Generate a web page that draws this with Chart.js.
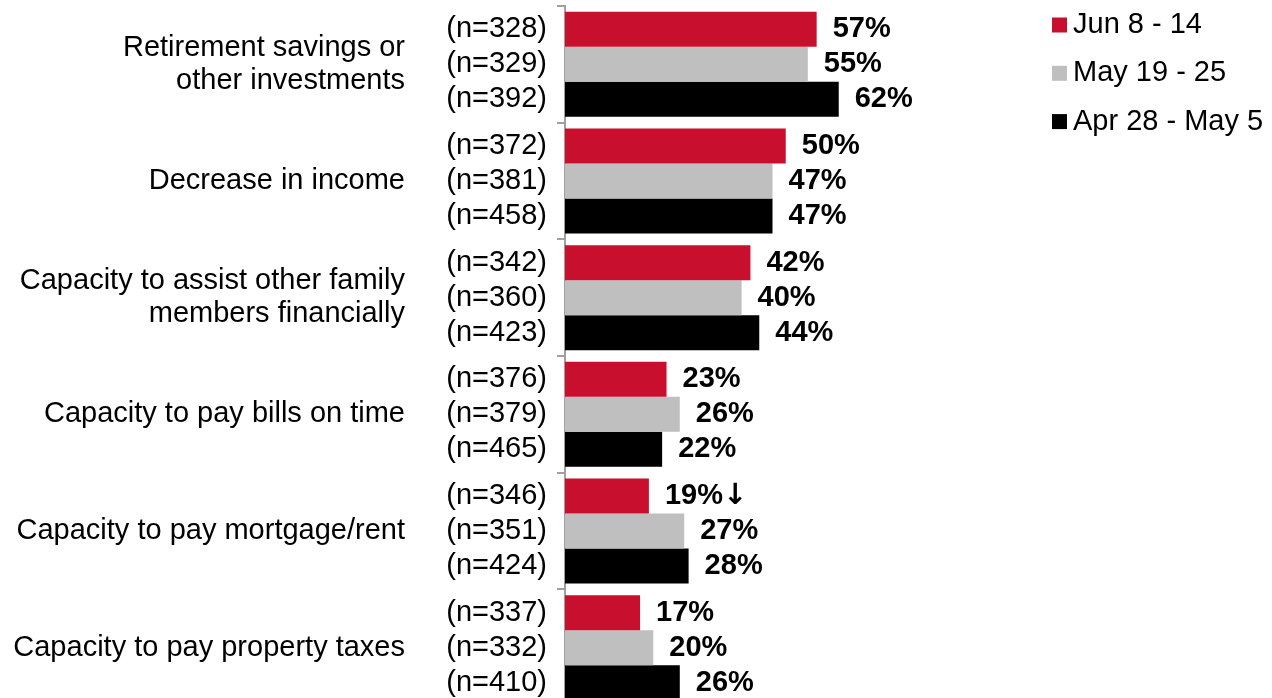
<!DOCTYPE html>
<html lang="en">
<head>
<meta charset="UTF-8">
<title>Financial concerns by survey wave</title>
<script src="https://cdn.jsdelivr.net/npm/chart.js"></script>
<style>
    html, body { margin: 0; padding: 0; background: #fff; overflow: hidden; }
    .chart-container { position: relative; width: 1272px; height: 706px; }
</style>
</head>
<body>
<div class="chart-container">
    <canvas id="myChart"></canvas>
</div>
<script>
    // categories (top to bottom)
    const categories = [
        ["Retirement savings or", "other investments"],
        "Decrease in income",
        ["Capacity to assist other family", "members financially"],
        "Capacity to pay bills on time",
        "Capacity to pay mortgage/rent",
        "Capacity to pay property taxes"
    ];
    const seriesNames = ["Jun 8 - 14", "May 19 - 25", "Apr 28 - May 5"];

    // percentages
    const junValues = [57, 50, 42, 23, 19, 17];
    const mayValues = [55, 47, 40, 26, 27, 20];
    const aprValues = [62, 47, 44, 22, 28, 26];

    // sample sizes
    const junN = [328, 372, 342, 376, 346, 337];
    const mayN = [329, 381, 360, 379, 351, 332];
    const aprN = [392, 458, 423, 465, 424, 410];

    // significance markers
    const junMarks = ["", "", "", "", "\u2193", ""];

    const FONT = '"Liberation Sans", Arial, sans-serif';
    const SIZE = 29;

    // n= labels left of the axis and % labels at bar ends
    const barLabels = {
        id: 'barLabels',
        afterDatasetsDraw(chart) {
            const ctx = chart.ctx;
            const left = chart.chartArea.left;
            ctx.save();
            ctx.textBaseline = 'middle';
            ctx.fillStyle = '#000';
            chart.data.datasets.forEach((ds, i) => {
                const meta = chart.getDatasetMeta(i);
                meta.data.forEach((bar, j) => {
                    ctx.font = SIZE + 'px ' + FONT;
                    ctx.textAlign = 'right';
                    ctx.fillText('(n=' + ds.n[j] + ')', left - 18, bar.y);
                    ctx.font = 'bold ' + SIZE + 'px ' + FONT;
                    ctx.textAlign = 'left';
                    const txt = ds.data[j] + '%';
                    ctx.fillText(txt, bar.x + 16, bar.y);
                    const mark = ds.marks ? ds.marks[j] : '';
                    if (mark) {
                        const w = ctx.measureText(txt).width;
                        ctx.font = 'bold ' + SIZE + 'px "DejaVu Sans", sans-serif';
                        ctx.fillText(mark, bar.x + 16 + w, bar.y);
                    }
                });
            });
            ctx.restore();
        }
    };

    // legend in the top right corner
    const sideLegend = {
        id: 'sideLegend',
        afterDraw(chart) {
            const ctx = chart.ctx;
            ctx.save();
            ctx.font = SIZE + 'px ' + FONT;
            ctx.textBaseline = 'middle';
            ctx.textAlign = 'left';
            chart.data.datasets.forEach((ds, i) => {
                const y = 25 + i * 48.3;
                ctx.fillStyle = ds.backgroundColor;
                ctx.fillRect(1052, y - 7.5, 15, 15);
                ctx.fillStyle = '#000';
                ctx.fillText(ds.label, 1073, y);
            });
            ctx.restore();
        }
    };

    new Chart(document.getElementById('myChart'), {
        type: 'bar',
        data: {
            labels: categories,
            datasets: [
                { label: seriesNames[0], data: junValues, n: junN, marks: junMarks, backgroundColor: '#C8102E' },
                { label: seriesNames[1], data: mayValues, n: mayN, backgroundColor: '#BFBFBF' },
                { label: seriesNames[2], data: aprValues, n: aprN, backgroundColor: '#000000' }
            ]
        },
        options: {
            indexAxis: 'y',
            responsive: true,
            maintainAspectRatio: false,
            animation: false,
            layout: { padding: { top: 6, right: 265.5, bottom: 0, left: 0 } },
            datasets: { bar: { categoryPercentage: 0.9, barPercentage: 1.0 } },
            scales: {
                x: { display: false, min: 0, max: 100 },
                y: {
                    afterFit(scale) {
                        scale.width = 565;
                        scale.paddingTop = 0;
                        scale.paddingBottom = 0;
                    },
                    border: { display: true, color: '#A0A0A0', width: 2 },
                    grid: { display: true, drawOnChartArea: false, drawTicks: true, tickLength: 8, color: '#A0A0A0', lineWidth: 2, offset: true },
                    ticks: { color: '#000', padding: 152, font: { family: FONT, size: SIZE, lineHeight: 1.14 } }
                }
            },
            plugins: {
                legend: { display: false },
                tooltip: { enabled: false }
            }
        },
        plugins: [barLabels, sideLegend]
    });
</script>
</body>
</html>
